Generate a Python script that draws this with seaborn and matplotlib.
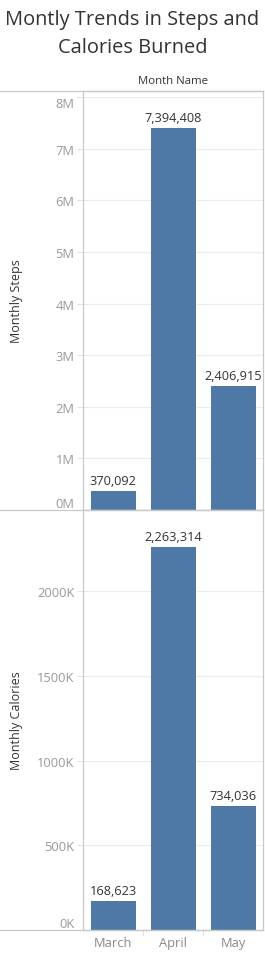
import matplotlib
matplotlib.use("Agg")
import matplotlib.pyplot as plt
import seaborn as sns
import pandas as pd
from matplotlib.lines import Line2D
from matplotlib.ticker import FuncFormatter, MultipleLocator

months = ["March", "April", "May"]
monthly_steps = [370092, 7394408, 2406915]
monthly_calories = [168623, 2263314, 734036]

header = "Month Name"
ylabel_steps = "Monthly Steps"
ylabel_cal = "Monthly Calories"

df = pd.DataFrame({"Month": months, "Steps": monthly_steps, "Calories": monthly_calories})

sns.set_theme(style="white")
plt.rcParams["font.family"] = ["Open Sans", "DejaVu Sans"]

W, H = 265, 954
fig = plt.figure(figsize=(W / 100, H / 100), dpi=100)

def fx(px):
    return px / W

def fy(py):
    return 1 - py / H

left, right = 83, 263
top1, mid, bot = 92, 511, 931
ax1 = fig.add_axes([fx(left), fy(mid), fx(right - left), (mid - top1) / H])
ax2 = fig.add_axes([fx(left), fy(bot), fx(right - left), (bot - mid) / H])

bar_color = "#4e79a7"
grid_color = "#ececec"
line_color = "#c8c8c8"
tick_color = "#999999"
text_color = "#333333"

sns.barplot(data=df, x="Month", y="Steps", color=bar_color, saturation=1, width=0.75,
            linewidth=0, ax=ax1)
sns.barplot(data=df, x="Month", y="Calories", color=bar_color, saturation=1, width=0.75,
            linewidth=0, ax=ax2)

ax1.set_ylim(0, 8.12e6)
ax2.set_ylim(0, 2.48e6)
ax1.yaxis.set_major_locator(MultipleLocator(1e6))
ax2.yaxis.set_major_locator(MultipleLocator(5e5))
ax1.yaxis.set_major_formatter(FuncFormatter(lambda v, p: f"{v/1e6:.0f}M"))
ax2.yaxis.set_major_formatter(FuncFormatter(lambda v, p: f"{v/1e3:.0f}K"))

for ax, vals in ((ax1, monthly_steps), (ax2, monthly_calories)):
    ax.set_xlim(-0.5, 2.5)
    ax.set_xlabel("")
    ax.set_ylabel("")
    ax.grid(axis="y", color=grid_color, linewidth=0.8)
    ax.set_axisbelow(True)
    for s in ax.spines.values():
        s.set_color(line_color)
        s.set_linewidth(0.9)
    ax.tick_params(axis="y", length=4, width=0.6, color="#dddddd", labelsize=9.3,
                   labelcolor=tick_color, pad=2, left=True)
    for c in ax.containers:
        ax.bar_label(c, labels=[f"{v:,.0f}" for v in vals], padding=3,
                     fontsize=9.2, color=text_color)

ax1.tick_params(axis="x", bottom=False, labelbottom=False)
ax2.set_xticks([0, 1, 2])
ax2.set_xticklabels(months)
ax2.tick_params(axis="x", length=0, labelsize=9.3, labelcolor="#888888", pad=4)
for xb in (0.5, 1.5):
    ax2.plot([xb, xb], [0, -0.012], transform=ax2.get_xaxis_transform(),
             color="#dddddd", lw=0.8, clip_on=False)

fig.canvas.draw()
for ax in (ax1, ax2):
    ymin, ymax = ax.get_ylim()
    for t, loc in zip(ax.get_yticklabels(), ax.get_yticks()):
        if abs(loc - ymin) < 1:
            t.set_va("bottom")
        elif abs(loc - ymax) / (ymax - ymin) < 0.03:
            t.set_va("top")

for py in (top1, mid, bot):
    fig.add_artist(Line2D([0, fx(right)], [fy(py), fy(py)], color=line_color, lw=0.9))

fig.text(0.5, fy(20), "Montly Trends in Steps and", ha="center", va="center",
         fontsize=14.4, color=text_color)
fig.text(0.5, fy(48), "Calories Burned", ha="center", va="center",
         fontsize=14.4, color=text_color)
fig.text(fx((left + right) / 2), fy(81), header, ha="center", va="center",
         fontsize=8.2, color=text_color)
fig.text(fx(17), fy((top1 + mid) / 2), ylabel_steps, ha="center", va="center",
         rotation=90, fontsize=9, color=text_color)
fig.text(fx(17), fy((mid + bot) / 2), ylabel_cal, ha="center", va="center",
         rotation=90, fontsize=9, color=text_color)

fig.savefig("out.png", dpi=100)
